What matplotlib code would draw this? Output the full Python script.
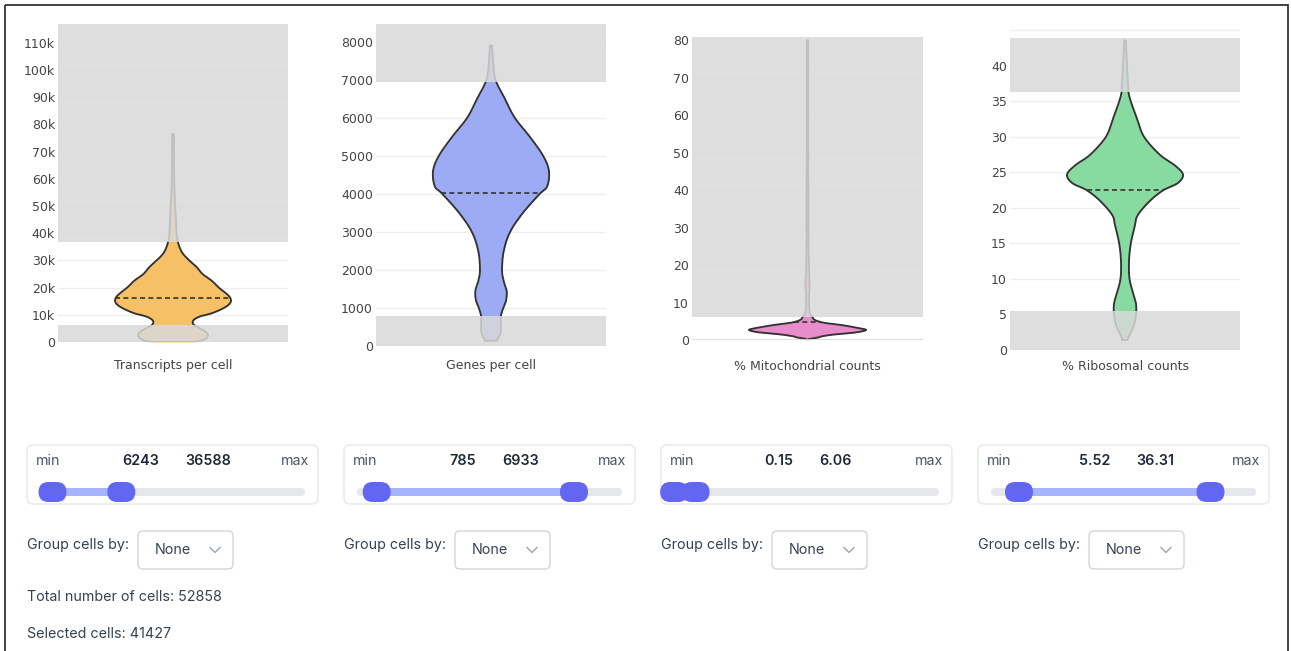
import numpy as np
import matplotlib.pyplot as plt
from matplotlib.patches import FancyBboxPatch, Rectangle

W, H = 1291, 651

# Profils des violons : valeur -> densité relative (max = 1)
tr_vals = [0, 700, 1800, 2800, 4000, 5200, 6300, 7500, 8500, 9500, 10500, 12000,
           13500, 15000, 16500, 18000, 20000, 22500, 25000, 27500, 30000, 32500,
           35000, 37500, 40000, 45000, 50000, 55000, 60000, 65000, 70000, 76500]
tr_dens = [.38, .52, .59, .60, .55, .45, .36, .34, .38, .48, .66, .83,
           .95, 1.0, .98, .91, .79, .67, .51, .41, .28, .17,
           .11, .078, .06, .052, .038, .026, .021, .017, .017, .014]

ge_vals = [140, 250, 400, 600, 785, 1000, 1200, 1450, 1700, 2000, 2500, 3000,
           3500, 4000, 4200, 4600, 5000, 5500, 6000, 6500, 7000, 7500, 7900]
ge_dens = [.10, .14, .17, .17, .17, .21, .26, .27, .22, .19, .22, .33,
           .55, .84, .97, 1.0, .90, .67, .41, .24, .078, .034, .017]

mt_vals = [0, 0.3, 0.7, 1.0, 1.5, 2.0, 2.6, 3.0, 3.5, 4.0, 4.5, 5.0, 5.5, 6.0,
           7, 9, 12, 15, 18, 25, 40, 60, 80]
mt_dens = [.01, .035, .19, .25, .47, .82, 1.0, .95, .77, .58, .32, .18, .11, .09,
           .044, .026, .026, .035, .026, .018, .014, .012, .012]

rb_vals = [1.4, 1.6, 2.5, 3.5, 5, 6.5, 8, 10, 12.5, 15, 17.5, 19, 21, 22.5,
           23.5, 24.7, 26, 27.5, 30, 32.5, 35, 36.3, 37.5, 40, 43.6]
rb_dens = [.043, .05, .10, .155, .19, .19, .14, .078, .069, .10, .17, .22, .43, .66,
           .91, 1.0, .86, .60, .33, .21, .10, .06, .052, .034, .014]

violins = [(tr_vals, tr_dens), (ge_vals, ge_dens), (mt_vals, mt_dens), (rb_vals, rb_dens)]
medians = [16000, 4030, 4.8, 22.5]
labels = ['Transcripts per cell', 'Genes per cell', '% Mitochondrial counts', '% Ribosomal counts']
colors = ['#f5c066', '#9dabf5', '#e88dcb', '#88dba0']

# Seuils de filtrage (curseurs)
seuil_bas = [6243, 785, 0.15, 5.52]
seuil_haut = [36588, 6933, 6.06, 36.31]
fmt_seuil = ['{:.0f}', '{:.0f}', '{:.2f}', '{:.2f}']
curseur_min = [730, 171, 0.1, 1.02]
curseur_max = [112300, 8055, 70, 41.7]

# Axes
y_max = [116900, 8465, 84.3, 45.9]
zone_haut = [116900, 8465, 80.9, 43.9]
ticks = [np.arange(0, 110001, 10000), np.arange(0, 8001, 1000),
         np.arange(0, 81, 10), np.arange(0, 46, 5)]
tick_labels = [['0'] + [f'{v // 1000}k' for v in range(10000, 110001, 10000)],
               [str(v) for v in range(0, 8001, 1000)],
               [str(v) for v in range(0, 81, 10)],
               [str(v) for v in range(0, 41, 5)] + ['']]

n_total = 52858
n_selection = 41427

# Boîtes des graphiques en pixels (gauche, haut, droite, bas)
boites = [(58, 24, 288, 342), (376, 24, 606, 346), (692, 24, 923, 340), (1010, 24, 1240, 350)]


def lisse(v, w, n=10):
    # courbe de Catmull-Rom passant par les points du profil
    p = np.column_stack([v, w]).astype(float)
    p = np.vstack([p[:1], p, p[-1:]])
    t = np.linspace(0, 1, n, endpoint=False)[:, None]
    seg = []
    for k in range(1, len(p) - 2):
        p0, p1, p2, p3 = p[k - 1], p[k], p[k + 1], p[k + 2]
        seg.append(0.5 * (2 * p1 + (-p0 + p2) * t + (2 * p0 - 5 * p1 + 4 * p2 - p3) * t**2
                          + (-p0 + 3 * p1 - 3 * p2 + p3) * t**3))
    seg.append(p[-2:-1])
    out = np.vstack(seg)
    return out[:, 0], np.clip(out[:, 1], 0.004, None)


fig = plt.figure(figsize=(W / 100, H / 100), dpi=100)

# Calque interface (pixels)
ui = fig.add_axes([0, 0, 1, 1])
ui.set_xlim(0, W)
ui.set_ylim(H, 0)
ui.axis('off')

ui.add_patch(Rectangle((5, 5), 1283, 700, fill=False, edgecolor='#333333', lw=1.3))

police_ui = ['Inter', 'DejaVu Sans']
taille_ui = 10.3
demi = 0.504   # demi-largeur max d'un violon (unités x)

for i, (vals, dens) in enumerate(violins):
    l, t, r, b = boites[i]
    ax = fig.add_axes([l / W, 1 - b / H, (r - l) / W, (b - t) / H])
    ax.patch.set_alpha(0)
    ax.set_xlim(-1, 1)
    ax.set_ylim(0, y_max[i])
    for s in ax.spines.values():
        s.set_visible(False)
    ax.set_xticks([])
    ax.set_yticks(ticks[i])
    ax.set_yticklabels(tick_labels[i])
    ax.tick_params(axis='y', length=0, pad=2.2, labelsize=9, labelcolor='#444444')
    for v in ticks[i]:
        ax.axhline(v, color='#dddddd' if v == 0 else '#eeeeee', lw=1, zorder=0)

    v, w = lisse(vals, np.array(dens) * demi)
    ax.fill_betweenx(v, -w, w, color=colors[i], lw=0, zorder=2)
    ax.plot(np.r_[-w, w[::-1], -w[:1]], np.r_[v, v[::-1], v[:1]],
            color='#333333', lw=1.35, solid_joinstyle='round', zorder=3)
    wm = np.interp(medians[i], v, w)
    ax.plot([-wm, wm], [medians[i], medians[i]], color='#333333', lw=1.2,
            ls=(0, (3, 2)), zorder=3)

    # zones exclues
    ax.axhspan(0, seuil_bas[i], color='#d9d9d9', alpha=0.85, lw=0, zorder=4)
    ax.axhspan(seuil_haut[i], zone_haut[i], color='#d9d9d9', alpha=0.85, lw=0, zorder=4)

    ui.text((l + r) / 2, 366, labels[i], ha='center', va='center', fontsize=9,
            color='#444444', family='DejaVu Sans')

    # carte du curseur
    c = 27 + i * 317
    ui.add_patch(FancyBboxPatch((c, 445), 291, 59, boxstyle='round,pad=0,rounding_size=6',
                                fc='white', ec='#e5e7eb', lw=1))
    ui.text(c + 9, 461, 'min', ha='left', va='center', fontsize=taille_ui, color='#4b5563',
            family=police_ui)
    ui.text(c + 282, 461, 'max', ha='right', va='center', fontsize=taille_ui, color='#4b5563',
            family=police_ui)
    cx = c + 145.5
    ui.text(cx - 13, 461, fmt_seuil[i].format(seuil_bas[i]), ha='right', va='center',
            fontsize=taille_ui, color='#1f2937', fontweight=600, family=police_ui)
    ui.text(cx + 13, 461, fmt_seuil[i].format(seuil_haut[i]), ha='left', va='center',
            fontsize=taille_ui, color='#1f2937', fontweight=600, family=police_ui)

    ui.add_patch(FancyBboxPatch((c + 13, 488), 265, 8, boxstyle='round,pad=0,rounding_size=4',
                                fc='#e5e7eb', ec='none'))
    pos = [c + 13 + (s - curseur_min[i]) / (curseur_max[i] - curseur_min[i]) * 253
           for s in (seuil_bas[i], seuil_haut[i])]
    ui.add_patch(Rectangle((pos[0], 488), pos[1] - pos[0], 8, fc='#a5b4fc', ec='none'))
    for p in pos:
        ui.add_patch(FancyBboxPatch((p - 14, 482), 28, 20, boxstyle='round,pad=0,rounding_size=10',
                                    fc='#6366f1', ec='none'))

    # menu de regroupement
    ui.text(c, 545, 'Group cells by:', ha='left', va='center', fontsize=taille_ui,
            color='#374151', family=police_ui)
    ui.add_patch(FancyBboxPatch((c + 111, 531), 95, 38, boxstyle='round,pad=0,rounding_size=5',
                                fc='white', ec='#d1d5db', lw=1))
    ui.text(c + 146, 550, 'None', ha='center', va='center', fontsize=taille_ui,
            color='#374151', family=police_ui)
    ui.plot([c + 183, c + 188, c + 193], [547.5, 552.5, 547.5], color='#9ca3af', lw=1)

ui.text(27, 597, f'Total number of cells: {n_total}', ha='left', va='center',
        fontsize=taille_ui, color='#374151', family=police_ui)
ui.text(27, 634, f'Selected cells: {n_selection}', ha='left', va='center',
        fontsize=taille_ui, color='#374151', family=police_ui)

fig.savefig('out.png', dpi=100)
